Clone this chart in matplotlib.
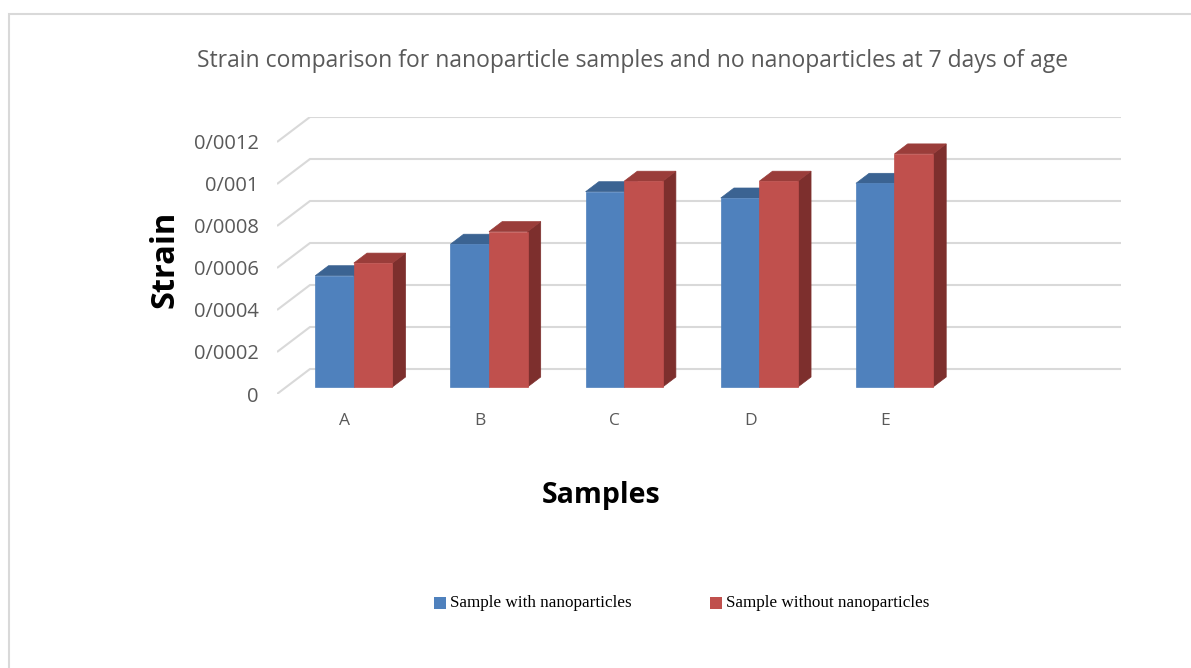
import matplotlib

matplotlib.use("Agg")

import matplotlib.pyplot as plt
from matplotlib.patches import Polygon, Rectangle

samples = ["A", "B", "C", "D", "E"]
with_nano = [0.00053, 0.00068, 0.00093, 0.00090, 0.00097]
without_nano = [0.00059, 0.00074, 0.00098, 0.00098, 0.00111]
y_ticks = [0, 0.0002, 0.0004, 0.0006, 0.0008, 0.0010, 0.0012]
y_tick_labels = ["0", "0/0002", "0/0004", "0/0006", "0/0008", "0/001", "0/0012"]
n_slots = 6  # the category axis has one empty slot after E

# oblique depth offset of the back wall, in data units
DEPTH_X = 0.244
DEPTH_Y = 0.000119
BAR_FRONT = 0.28
BAR_BACK = 0.68
BAR_WIDTH = 0.285

GRID = "#d9d9d9"
TEXT = "#595959"
series_colors = [
    ("#4f81bd", "#3b6392", "#385d8a"),
    ("#c0504d", "#9a3d3a", "#7d2f2d"),
]

W, H = 1191, 668
fig = plt.figure(figsize=(W / 100, H / 100), dpi=100)

# outer chart frame
fig.add_artist(Rectangle((9 / W, -0.1), 1.2, (H - 14) / H + 0.1,
                         transform=fig.transFigure, fill=False,
                         edgecolor=GRID, linewidth=1.5))

left, right, bottom, top = 277, 1121, 394, 117
ax = fig.add_axes([left / W, 1 - bottom / H, (right - left) / W, (bottom - top) / H])
ax.set_xlim(0, n_slots + DEPTH_X)
ax.set_ylim(0, max(y_ticks) + DEPTH_Y)
for spine in ax.spines.values():
    spine.set_visible(False)

# back wall gridlines with the diagonal floor/side edges
for v in y_ticks:
    ax.plot([0, DEPTH_X, n_slots + DEPTH_X], [v, v + DEPTH_Y, v + DEPTH_Y],
            color=GRID, linewidth=1.5, solid_capstyle="butt", zorder=1)


def draw_bar(x0, value, colors):
    front, top_c, side = colors
    fx, fy = BAR_FRONT * DEPTH_X, BAR_FRONT * DEPTH_Y
    bx, by = BAR_BACK * DEPTH_X, BAR_BACK * DEPTH_Y
    x1 = x0 + BAR_WIDTH
    faces = [
        ([(x1 + fx, fy), (x1 + bx, by), (x1 + bx, value + by), (x1 + fx, value + fy)], side),
        ([(x0 + fx, value + fy), (x1 + fx, value + fy), (x1 + bx, value + by), (x0 + bx, value + by)], top_c),
        ([(x0 + fx, fy), (x1 + fx, fy), (x1 + fx, value + fy), (x0 + fx, value + fy)], front),
    ]
    for pts, c in faces:
        ax.add_patch(Polygon(pts, closed=True, facecolor=c, edgecolor=c,
                             linewidth=0.5, zorder=3))


for i in range(len(samples)):
    center = i + 0.5
    draw_bar(center - BAR_WIDTH, with_nano[i], series_colors[0])
    draw_bar(center, without_nano[i], series_colors[1])

ax.set_yticks(y_ticks)
ax.set_yticklabels(y_tick_labels)
ax.set_xticks([i + 0.5 for i in range(len(samples))])
ax.set_xticklabels(samples)
ax.tick_params(axis="y", length=0, pad=13, labelsize=14.5, labelcolor=TEXT)
ax.tick_params(axis="x", length=0, pad=14, labelsize=12.5, labelcolor=TEXT)
for label in ax.get_xticklabels() + ax.get_yticklabels():
    label.set_fontfamily("Open Sans")

fig.text(633 / W, 1 - 61 / H, "Strain comparison for nanoparticle samples and no nanoparticles at 7 days of age",
         ha="center", va="center", fontsize=16.5, color=TEXT, family="Open Sans")
fig.text(165 / W, 1 - 259 / H, "Strain", rotation=90, ha="center", va="center",
         fontsize=23.5, fontweight="bold", family="Open Sans", color="black")
fig.text(601 / W, 1 - 496 / H, "Samples", ha="center", va="center",
         fontsize=20.5, fontweight="bold", family="Open Sans", color="black")

# legend
legend_items = [("Sample with nanoparticles", 434), ("Sample without nanoparticles", 710)]
for (label, px), (front, _, _) in zip(legend_items, series_colors):
    fig.add_artist(Rectangle((px / W, 1 - 609 / H), 12 / W, 12 / H,
                             transform=fig.transFigure, facecolor=front, edgecolor="none"))
    fig.text((px + 16) / W, 1 - 603 / H, label, ha="left", va="center",
             fontsize=12.3, family="Liberation Serif", color="black")

fig.savefig("out.png", dpi=100)
